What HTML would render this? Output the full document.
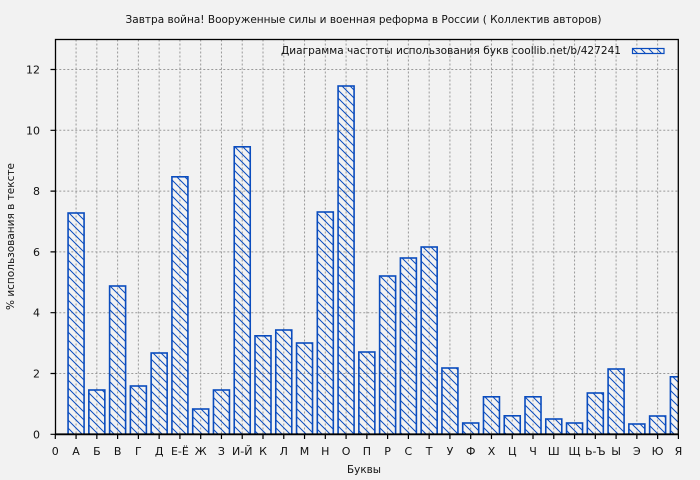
<!DOCTYPE html>
<html><head><meta charset="utf-8"><style>
html,body{margin:0;padding:0;background:#f2f2f2;}
svg{display:block;}
text{font-family:"DejaVu Sans","Liberation Sans",sans-serif;font-size:11px;fill:#111;}
</style></head><body>
<svg width="700" height="480" viewBox="0 0 700 480" xmlns="http://www.w3.org/2000/svg">
<defs>
<pattern id="h" patternUnits="userSpaceOnUse" width="8" height="8">
<path d="M0,0 L8,8 M-2,6 L2,10 M6,-2 L10,2" stroke="#0a4cbe" stroke-width="1"/>
</pattern>
<clipPath id="pc"><rect x="55.3" y="39" width="623" height="396"/></clipPath>
</defs>
<rect width="700" height="480" fill="#f2f2f2"/>
<text x="363.5" y="23" text-anchor="middle" textLength="476" lengthAdjust="spacingAndGlyphs">Завтра война! Вооруженные силы и военная реформа в России ( Коллектив авторов)</text>
<g stroke="#999" stroke-width="1" stroke-dasharray="2,2" fill="none">
<path d="M76.07,39.5V434 M96.84,39.5V434 M117.61,39.5V434 M138.38,39.5V434 M159.15,39.5V434 M179.92,39.5V434 M200.69,39.5V434 M221.46,39.5V434 M242.23,39.5V434 M263,39.5V434 M283.77,39.5V434 M304.54,39.5V434 M325.31,39.5V434 M346.08,39.5V434 M366.85,39.5V434 M387.62,39.5V434 M408.39,39.5V434 M429.16,39.5V434 M449.93,39.5V434 M470.7,39.5V434 M491.47,39.5V434 M512.24,39.5V434 M533.01,39.5V434 M553.78,39.5V434 M574.55,39.5V434 M595.32,39.5V434 M616.09,39.5V434 M636.86,39.5V434 M657.63,39.5V434"/>
<path d="M55.3,373.5H678 M55.3,312.7H678 M55.3,251.9H678 M55.3,191.1H678 M55.3,130.3H678 M55.3,69.5H678"/>
</g>
<g clip-path="url(#pc)" fill="url(#h)" stroke="#0a4cbe" stroke-width="1.6">
<rect x="68.07" y="213" width="16" height="221.3"/>
<rect x="88.84" y="390" width="16" height="44.3"/>
<rect x="109.61" y="286" width="16" height="148.3"/>
<rect x="130.38" y="386" width="16" height="48.3"/>
<rect x="151.15" y="353" width="16" height="81.3"/>
<rect x="171.92" y="176.8" width="16" height="257.5"/>
<rect x="192.69" y="409" width="16" height="25.3"/>
<rect x="213.46" y="390" width="16" height="44.3"/>
<rect x="234.23" y="146.8" width="16" height="287.5"/>
<rect x="255" y="335.8" width="16" height="98.5"/>
<rect x="275.77" y="330" width="16" height="104.3"/>
<rect x="296.54" y="343" width="16" height="91.3"/>
<rect x="317.31" y="212" width="16" height="222.3"/>
<rect x="338.08" y="86" width="16" height="348.3"/>
<rect x="358.85" y="352" width="16" height="82.3"/>
<rect x="379.62" y="276" width="16" height="158.3"/>
<rect x="400.39" y="258" width="16" height="176.3"/>
<rect x="421.16" y="247" width="16" height="187.3"/>
<rect x="441.93" y="368" width="16" height="66.3"/>
<rect x="462.7" y="423" width="16" height="11.3"/>
<rect x="483.47" y="396.8" width="16" height="37.5"/>
<rect x="504.24" y="415.8" width="16" height="18.5"/>
<rect x="525.01" y="396.8" width="16" height="37.5"/>
<rect x="545.78" y="419" width="16" height="15.3"/>
<rect x="566.55" y="423" width="16" height="11.3"/>
<rect x="587.32" y="393" width="16" height="41.3"/>
<rect x="608.09" y="369" width="16" height="65.3"/>
<rect x="628.86" y="424" width="16" height="10.3"/>
<rect x="649.63" y="416" width="16" height="18.3"/>
<rect x="670.4" y="376.8" width="16" height="57.5"/>
</g>
<rect x="55.5" y="39.5" width="622.8" height="394.8" fill="none" stroke="#000" stroke-width="1.3"/>
<line x1="55.3" y1="434.3" x2="678.3" y2="434.3" stroke="#000" stroke-width="1.8"/>
<g stroke="#000" stroke-width="1.2">
<path d="M50.5,434.3H55.3 M50.5,373.5H55.3 M50.5,312.7H55.3 M50.5,251.9H55.3 M50.5,191.1H55.3 M50.5,130.3H55.3 M50.5,69.5H55.3"/>
<path d="M55.3,434V439 M76.07,434V439 M96.84,434V439 M117.61,434V439 M138.38,434V439 M159.15,434V439 M179.92,434V439 M200.69,434V439 M221.46,434V439 M242.23,434V439 M263,434V439 M283.77,434V439 M304.54,434V439 M325.31,434V439 M346.08,434V439 M366.85,434V439 M387.62,434V439 M408.39,434V439 M429.16,434V439 M449.93,434V439 M470.7,434V439 M491.47,434V439 M512.24,434V439 M533.01,434V439 M553.78,434V439 M574.55,434V439 M595.32,434V439 M616.09,434V439 M636.86,434V439 M657.63,434V439 M678.4,434V439"/>
</g>
<g text-anchor="end">
<text x="40" y="438.3">0</text>
<text x="40" y="377.5">2</text>
<text x="40" y="316.7">4</text>
<text x="40" y="255.9">6</text>
<text x="40" y="195.1">8</text>
<text x="40" y="134.3">10</text>
<text x="40" y="73.5">12</text>
</g>
<g text-anchor="middle">
<text x="55.3" y="455">0</text>
<text x="76.07" y="455">А</text>
<text x="96.84" y="455">Б</text>
<text x="117.61" y="455">В</text>
<text x="138.38" y="455">Г</text>
<text x="159.15" y="455">Д</text>
<text x="179.92" y="455">Е-Ё</text>
<text x="200.69" y="455">Ж</text>
<text x="221.46" y="455">З</text>
<text x="242.23" y="455">И-Й</text>
<text x="263" y="455">К</text>
<text x="283.77" y="455">Л</text>
<text x="304.54" y="455">М</text>
<text x="325.31" y="455">Н</text>
<text x="346.08" y="455">О</text>
<text x="366.85" y="455">П</text>
<text x="387.62" y="455">Р</text>
<text x="408.39" y="455">С</text>
<text x="429.16" y="455">Т</text>
<text x="449.93" y="455">У</text>
<text x="470.7" y="455">Ф</text>
<text x="491.47" y="455">Х</text>
<text x="512.24" y="455">Ц</text>
<text x="533.01" y="455">Ч</text>
<text x="553.78" y="455">Ш</text>
<text x="574.55" y="455">Щ</text>
<text x="595.32" y="455">Ь-Ъ</text>
<text x="616.09" y="455">Ы</text>
<text x="636.86" y="455">Э</text>
<text x="657.63" y="455">Ю</text>
<text x="678.4" y="455">Я</text>
<text x="364" y="473" textLength="34" lengthAdjust="spacingAndGlyphs">Буквы</text>
</g>
<text x="0" y="0" text-anchor="middle" transform="translate(14,236.5) rotate(-90)" textLength="147" lengthAdjust="spacingAndGlyphs">% использования в тексте</text>
<text x="281" y="54" textLength="340" lengthAdjust="spacingAndGlyphs">Диаграмма частоты использования букв  coollib.net/b/427241</text>
<rect x="632.5" y="48.5" width="31.5" height="5" fill="url(#h)" stroke="#0a4cbe" stroke-width="1.2"/>
</svg>
</body></html>
